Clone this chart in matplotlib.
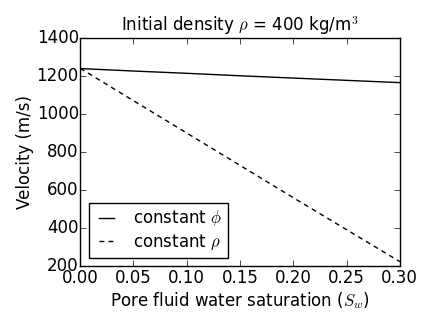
import numpy as np
import matplotlib
matplotlib.use('Agg')
import matplotlib.pyplot as plt

plt.style.use('classic')

sw = [0.0, 0.05, 0.10, 0.15, 0.20, 0.25, 0.30]
v_const_phi = [1239, 1226, 1214, 1201, 1189, 1177, 1165]
v_const_rho = [1240, 1070, 900, 730, 560, 392, 224]

fig = plt.figure(figsize=(4.36, 3.27), dpi=100)
ax = fig.add_axes([0.184, 0.186, 0.733, 0.698])
ax.plot(sw, v_const_phi, 'k-', label=r'constant $\phi$')
ax.plot(sw, v_const_rho, 'k--', dashes=(3.5, 3), label=r'constant $\rho$')
ax.set_xlim(0, 0.3)
ax.set_ylim(200, 1400)
ax.tick_params(axis='x', pad=2)
ax.tick_params(axis='y', pad=1)
ax.set_xlabel(r'Pore fluid water saturation ($S_w$)', labelpad=2)
ax.set_ylabel('Velocity (m/s)', labelpad=2)
ax.set_title(r'Initial density $\rho$ = 400 kg/m$^3$', fontsize=12)
ax.legend(loc='lower left', fontsize=12, handlelength=1.5, labelspacing=0.25,
          borderpad=0.35)
fig.savefig('out.png', dpi=100)
